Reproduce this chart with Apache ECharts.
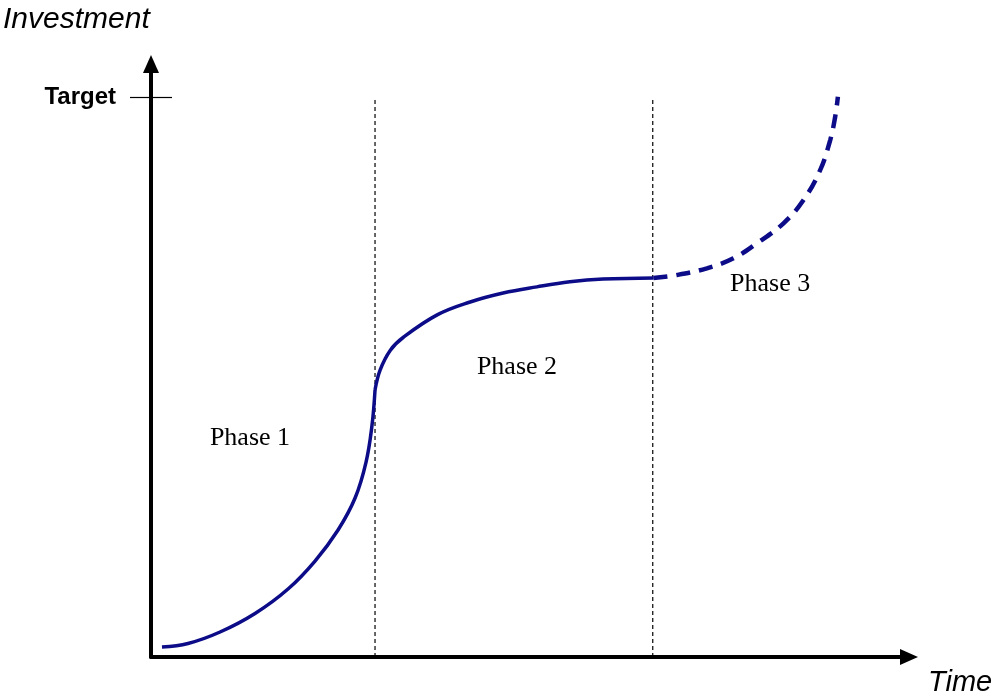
<!DOCTYPE html>
<html>
<head>
<meta charset="utf-8">
<script src="https://cdn.jsdelivr.net/npm/echarts@6/dist/echarts.min.js"></script>
<style>html,body{margin:0;padding:0;background:#fff}#c{width:996px;height:698px}</style>
</head>
<body>
<div id="c"></div>
<script>
// Time (arbitrary units) and Investment (Target = 100)
const phase1 = [[1.43,1.79],[4.82,2.41],[9.0,4.46],[13.56,7.77],[17.86,12.14],[21.38,17.14],[24.38,22.68],[26.6,28.39],[28.03,34.82],[28.81,41.43],[29.2,47.68]];
const phase2 = [[29.2,47.68],[29.86,51.25],[31.2,54.8],[32.9,57.1],[37.3,61.1],[41.6,63.4],[45.9,65.0],[50.3,66.1],[54.6,67.0],[58.9,67.5],[65.5,67.7]];
const phase3 = [[65.5,67.7],[68.54,68.21],[72.45,69.41],[75.92,71.2],[78.97,73.88],[82.44,77.45],[85.05,81.61],[87.22,86.96],[88.53,92.32],[89.18,96.48],[89.53,100.05]];
const phaseBounds = [29.2, 65.4];
const boundTop = 99.5;
const phaseLabels = [["Phase 1",12.9,39.1],["Phase 2",47.7,51.8],["Phase 3",80.7,66.6]];
const yTickValues = [100];
const yTickLabels = ["Target"];

const navy = '#0c0c88';
const chart = echarts.init(document.getElementById('c'));
const series = [];
const curveStyle = {type:'line', showSymbol:false, smooth:0.4, z:5};
series.push(Object.assign({}, curveStyle, {data: phase1, lineStyle:{color:navy, width:3.5}}));
series.push(Object.assign({}, curveStyle, {data: phase2, lineStyle:{color:navy, width:3.5}}));
series.push(Object.assign({}, curveStyle, {data: phase3, lineStyle:{color:navy, width:4.5, type:[14,9]}}));
phaseBounds.forEach(b => {
  series.push({type:'line', showSymbol:false, data:[[b,0],[b,boundTop]], lineStyle:{color:'#000', width:1.2, type:[4,3]}, z:2, silent:true});
});
series.push({
  type:'scatter', symbolSize:0, silent:true, itemStyle:{opacity:1},
  data: phaseLabels.map(p => ({value:[p[1],p[2]], name:p[0]})),
  label:{show:true, position:'inside', formatter: p => p.name, fontFamily:'Liberation Serif, Times New Roman, serif', fontSize:26, color:'#000'}
});

const tickFmt = v => { const i = yTickValues.indexOf(v); return i >= 0 ? yTickLabels[i] : ''; };
chart.setOption({
  animation:false,
  grid:{left:151, right:87, top:64, bottom:41},
  xAxis:{type:'value', min:0, max:98.8, splitLine:{show:false}, axisTick:{show:false}, axisLabel:{show:false},
    axisLine:{lineStyle:{color:'#000', width:4}, symbol:['none','triangle'], symbolSize:[16,18]}},
  yAxis:[{type:'value', min:0, max:105.9, splitLine:{show:false},
    axisTick:{show:true, customValues:yTickValues, length:21, lineStyle:{color:'#000', width:1.2}},
    axisLabel:{show:true, customValues:yTickValues, margin:35, formatter: tickFmt, fontFamily:'Liberation Sans, Arial, sans-serif', fontWeight:'bold', fontSize:24, color:'#000'},
    axisLine:{lineStyle:{color:'#000', width:4}, symbol:['none','triangle'], symbolSize:[16,18]}},
    {type:'value', min:0, max:105.9, position:'left', splitLine:{show:false}, axisLine:{show:false}, axisLabel:{show:false},
    axisTick:{show:true, customValues:yTickValues, inside:true, length:21, lineStyle:{color:'#000', width:1.2}}}],
  graphic:[
    {type:'text', left:3, top:5, style:{text:'Investment', font:'italic 30px "Liberation Sans", Arial, sans-serif', fill:'#000'}},
    {type:'text', left:928, top:668, style:{text:'Time', font:'italic 29px "Liberation Sans", Arial, sans-serif', fill:'#000'}}
  ],
  series: series
});
</script>
</body>
</html>
